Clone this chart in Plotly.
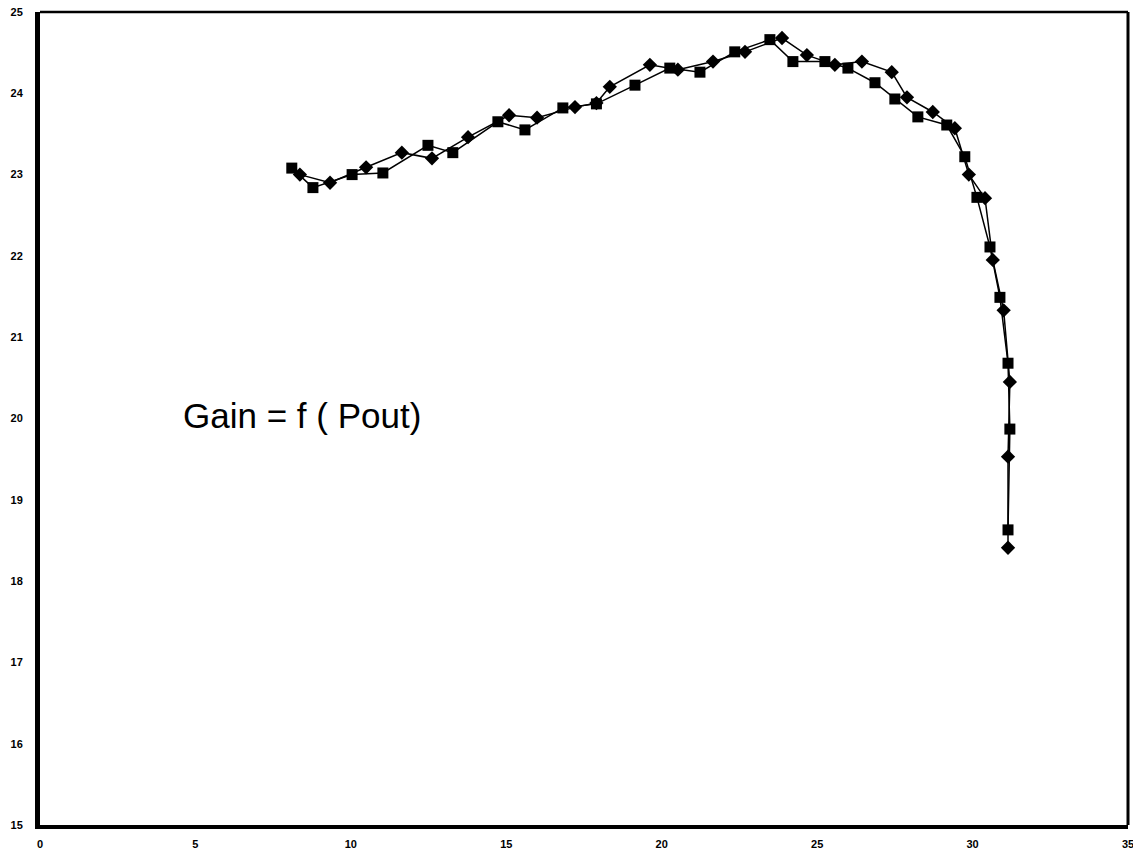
import plotly.graph_objects as go

# Series 1 (square markers): Pout (x) and Gain (y)
sq_x = [8.1, 8.78, 10.04, 11.03, 12.48, 13.28, 14.73, 15.6, 16.82, 17.9, 19.14, 20.26, 21.23,
        22.35, 23.48, 24.22, 25.25, 25.99, 26.86, 27.5, 28.24, 29.17, 29.75, 30.14, 30.56,
        30.88, 31.14, 31.2, 31.14]
sq_y = [23.08, 22.84, 23.0, 23.02, 23.36, 23.27, 23.65, 23.55, 23.82, 23.87, 24.1, 24.31, 24.26,
        24.51, 24.66, 24.39, 24.39, 24.31, 24.13, 23.93, 23.71, 23.61, 23.22, 22.72, 22.11,
        21.49, 20.68, 19.87, 18.63]

# Series 2 (diamond markers)
dm_x = [8.36, 9.33, 10.49, 11.64, 12.61, 13.77, 15.09, 15.99, 17.21, 17.9, 18.33, 19.62, 20.52,
        21.65, 22.68, 23.87, 24.67, 25.57, 26.44, 27.4, 27.89, 28.72, 29.43, 29.88, 30.4,
        30.65, 31.0, 31.2, 31.14, 31.14]
dm_y = [23.0, 22.9, 23.09, 23.27, 23.2, 23.46, 23.73, 23.7, 23.83, 23.88, 24.08, 24.35, 24.29,
        24.39, 24.51, 24.68, 24.47, 24.35, 24.39, 24.26, 23.95, 23.77, 23.57, 23.0, 22.71,
        21.95, 21.33, 20.45, 19.53, 18.41]

x_ticks = [0, 5, 10, 15, 20, 25, 30, 35]
y_ticks = [15, 16, 17, 18, 19, 20, 21, 22, 23, 24, 25]

fig = go.Figure()
fig.add_trace(go.Scatter(x=sq_x, y=sq_y, mode="lines+markers",
                         line=dict(color="black", width=1.5),
                         marker=dict(symbol="square", size=11, color="black"),
                         showlegend=False))
fig.add_trace(go.Scatter(x=dm_x, y=dm_y, mode="lines+markers",
                         line=dict(color="black", width=1.5),
                         marker=dict(symbol="diamond", size=11, color="black"),
                         showlegend=False))

fig.add_annotation(x=4.55, y=20.04, xref="x", yref="y", text="Gain = f ( Pout)",
                   showarrow=False, xanchor="left", yanchor="middle",
                   font=dict(family="Liberation Sans, Arial", size=35, color="black"))

# top and right frame lines (thinner than the axes)
fig.add_shape(type="line", xref="paper", yref="paper", x0=0, x1=1, y0=1, y1=1,
              line=dict(color="black", width=2.5))
fig.add_shape(type="line", xref="paper", yref="paper", x0=1, x1=1, y0=0, y1=1,
              line=dict(color="black", width=3))

tick_font = dict(family="Liberation Sans, Arial", size=11, color="black", weight="bold")
fig.update_xaxes(range=[0, 35], tickvals=x_ticks, showgrid=False, zeroline=False,
                 showline=True, linewidth=4, linecolor="black", ticks="",
                 ticklabelstandoff=6, ticklabeloverflow="allow", automargin=False,
                 tickfont=tick_font)
fig.update_yaxes(range=[15, 25], tickvals=y_ticks, showgrid=False, zeroline=False,
                 showline=True, linewidth=5, linecolor="black", ticks="",
                 ticklabelstandoff=10, ticklabeloverflow="allow", automargin=False,
                 tickfont=tick_font)

fig.update_layout(width=1133, height=861, plot_bgcolor="white", paper_bgcolor="white",
                  margin=dict(l=40, r=5, t=12, b=36))

fig.write_html("out.html")
